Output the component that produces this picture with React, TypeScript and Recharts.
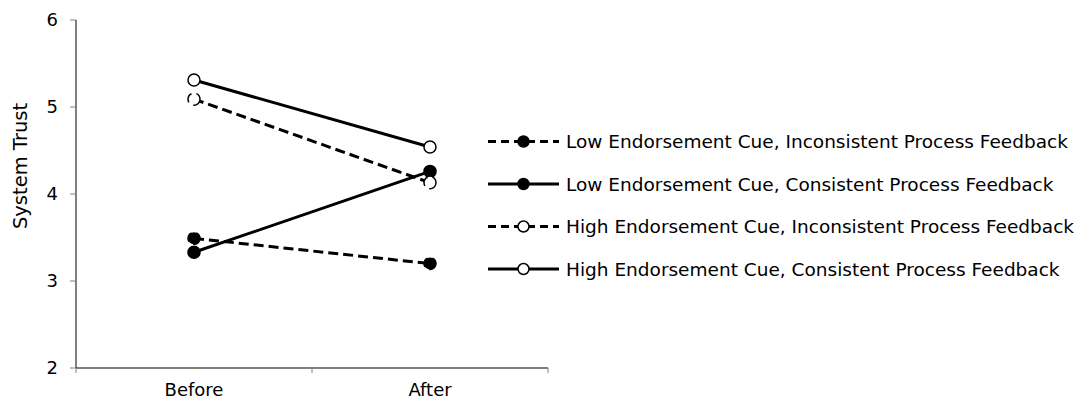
import React from 'react';
import { LineChart, Line, XAxis, YAxis } from 'recharts';

// Time points on the x axis
const categories = ['Before', 'After'];

// Mean system trust per condition
const lowInconsistent = [3.49, 3.2];
const lowConsistent = [3.33, 4.26];
const highInconsistent = [5.09, 4.13];
const highConsistent = [5.31, 4.54];

const yTicks = [2, 3, 4, 5, 6];

const FONT = '"DejaVu Sans", Verdana, sans-serif';

type Series = {
  key: string;
  name: string;
  values: number[];
  dashed: boolean;
  filled: boolean;
};

const series: Series[] = [
  { key: 'lowInc', name: 'Low Endorsement Cue, Inconsistent Process Feedback', values: lowInconsistent, dashed: true, filled: true },
  { key: 'lowCon', name: 'Low Endorsement Cue, Consistent Process Feedback', values: lowConsistent, dashed: false, filled: true },
  { key: 'highInc', name: 'High Endorsement Cue, Inconsistent Process Feedback', values: highInconsistent, dashed: true, filled: false },
  { key: 'highCon', name: 'High Endorsement Cue, Consistent Process Feedback', values: highConsistent, dashed: false, filled: false },
];

// Categories sit at the middle of each band; band edges get tick marks
const data = categories.map((c, i) => {
  const row: Record<string, number | string> = { pos: i + 0.5, category: c };
  series.forEach((s) => {
    row[s.key] = s.values[i];
  });
  return row;
});

const xTicks: number[] = [];
for (let i = 0; i <= categories.length; i++) {
  xTicks.push(i);
  if (i < categories.length) xTicks.push(i + 0.5);
}

const XTick = (props: any) => {
  const { x, y, payload } = props;
  const v = payload.value as number;
  if (Number.isInteger(v)) {
    return <line x1={x} x2={x} y1={y - 5} y2={y} stroke="#808080" strokeWidth={1} />;
  }
  return (
    <text x={x} y={y + 23} textAnchor="middle" fontFamily={FONT} fontSize={18} fill="#000">
      {categories[Math.floor(v)]}
    </text>
  );
};

const YTitle = () => (
  <text
    x={20}
    y={166}
    transform="rotate(-90 20 166)"
    textAnchor="middle"
    dominantBaseline="central"
    fontFamily={FONT}
    fontSize={19.5}
    fill="#000"
  >
    System Trust
  </text>
);

const LegendBox = () => {
  const rowH = 42.5;
  return (
    <svg
      width={602}
      height={180}
      style={{ position: 'absolute', left: 488, top: 120, overflow: 'visible' }}
    >
      {series.map((s, i) => {
        const cy = 21.5 + i * rowH;
        return (
          <g key={s.key}>
            <line
              x1={0}
              x2={71}
              y1={cy}
              y2={cy}
              stroke="#000"
              strokeWidth={3}
              strokeDasharray={s.dashed ? '8 5' : undefined}
            />
            <circle cx={35.5} cy={cy} r={5.5} fill={s.filled ? '#000' : '#fff'} stroke="#000" strokeWidth={1.5} />
            <text x={78} y={cy} dominantBaseline="central" fontFamily={FONT} fontSize={18.5} fill="#000">
              {s.name}
            </text>
          </g>
        );
      })}
    </svg>
  );
};

export default function App() {
  return (
    <div style={{ position: 'absolute', left: 0, top: 0, width: 1090, height: 406, background: '#fff' }}>
      <LineChart
        width={1090}
        height={406}
        data={data}
        margin={{ top: 20, right: 542, bottom: 0, left: 0 }}
      >
        <XAxis
          dataKey="pos"
          type="number"
          domain={[0, categories.length]}
          ticks={xTicks}
          interval={0}
          height={38}
          tickSize={5}
          tickMargin={0}
          tickLine={false}
          axisLine={{ stroke: '#000', strokeWidth: 1 }}
          tick={<XTick />}
        />
        <YAxis
          type="number"
          domain={[2, 6]}
          ticks={yTicks}
          interval={0}
          width={76}
          tickSize={6}
          tickMargin={12}
          tickLine={{ stroke: '#808080' }}
          axisLine={{ stroke: '#000', strokeWidth: 1 }}
          tick={{ fontFamily: FONT, fontSize: 18, fill: '#000' }}
          label={{ content: () => <YTitle /> }}
        />
        {series.map((s) => (
          <Line
            key={s.key}
            type="linear"
            dataKey={s.key}
            name={s.name}
            stroke="#000"
            strokeWidth={3}
            strokeDasharray={s.dashed ? '10 5' : undefined}
            dot={{ r: 6, fill: s.filled ? '#000' : '#fff', stroke: '#000', strokeWidth: 1.5 }}
            activeDot={false}
            isAnimationActive={false}
          />
        ))}
      </LineChart>
      <LegendBox />
    </div>
  );
}
